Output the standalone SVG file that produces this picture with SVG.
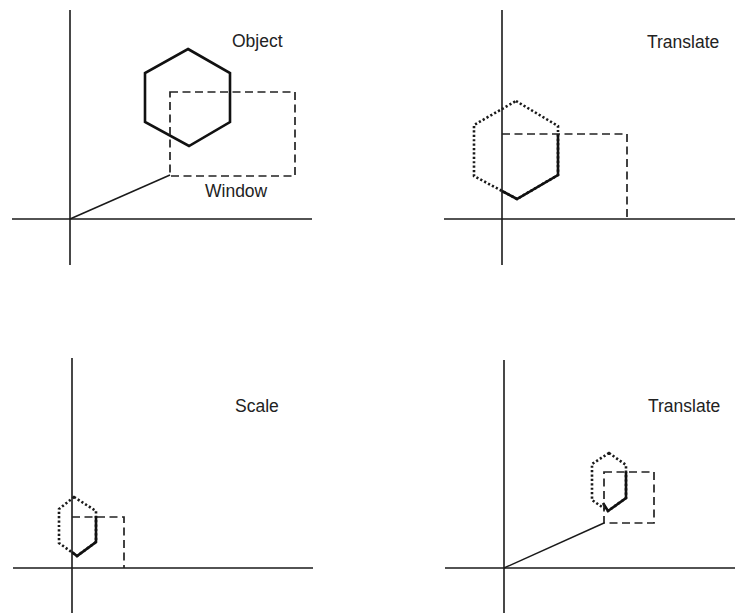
<svg xmlns="http://www.w3.org/2000/svg" width="735" height="613" viewBox="0 0 735 613">
<style>
.axis{stroke:#1a1a1a;stroke-width:1.6;fill:none}
.obj{stroke:#111;stroke-width:2.6;fill:none;stroke-linejoin:miter}
.win{stroke:#222;stroke-width:1.7;fill:none;stroke-dasharray:8 4.5}
.dot{stroke:#1a1a1a;stroke-width:2.6;fill:none;stroke-dasharray:2.2 2.2}
.vec{stroke:#1a1a1a;stroke-width:1.5;fill:none}
.lbl{font-family:"Liberation Sans",Arial,sans-serif;font-size:17.5px;fill:#222}
</style>
<rect width="735" height="613" fill="#fff"/>

<g id="panel-object">
  <g id="axes-1">
    <line class="axis" x1="70" y1="10" x2="70" y2="265"/>
    <line class="axis" x1="12" y1="219" x2="312" y2="219"/>
  </g>
  <g id="object-1">
    <polygon class="obj" points="188,49 230,73 230,122 189,146 145,122 145,73"/>
    <text class="lbl" x="232" y="47">Object</text>
  </g>
  <g id="window-1">
    <rect class="win" x="170" y="92" width="125" height="84"/>
    <text class="lbl" x="205" y="197">Window</text>
  </g>
</g>

<g id="panel-translate-1">
  <g id="axes-2">
    <line class="axis" x1="502" y1="10" x2="502" y2="265"/>
    <line class="axis" x1="444" y1="219" x2="735" y2="219"/>
  </g>
  <g id="object-2">
    <polygon class="dot" points="516,101 558,126 558,175 517,199 474,176 474,125"/>
    <polyline class="obj" points="558,134 558,175 517,199 502,191"/>
  </g>
  <g id="window-2">
    <polyline class="win" points="502,134 627,134 627,219"/>
  </g>
  <text class="lbl" x="647" y="48">Translate</text>
</g>

<g id="panel-scale">
  <g id="axes-3">
    <line class="axis" x1="72" y1="358" x2="72" y2="613"/>
    <line class="axis" x1="13" y1="568" x2="313" y2="568"/>
  </g>
  <g id="object-3">
    <polygon class="dot" points="74,497 96,511 96,542 77,556 59,543 59,509"/>
    <polyline class="obj" points="96,516 96,542 77,556 72,552"/>
  </g>
  <g id="window-3">
    <polyline class="win" points="72,517 124,517 124,568"/>
  </g>
  <text class="lbl" x="235" y="412">Scale</text>
</g>

<g id="panel-translate-2">
  <g id="axes-4">
    <line class="axis" x1="504" y1="360" x2="504" y2="613"/>
    <line class="axis" x1="445" y1="568" x2="735" y2="568"/>
  </g>
  <g id="object-4">
    <polygon class="dot" points="609,453 626,465 626,498 608,511 592,500 592,464"/>
    <polyline class="obj" points="626,472 626,498 608,511 603,503"/>
  </g>
  <g id="window-4">
    <rect class="win" x="604" y="472" width="50" height="51"/>
  </g>
  <text class="lbl" x="648" y="412">Translate</text>
</g>

<g id="connectors">
  <line class="vec" x1="70" y1="219" x2="170" y2="175"/>
  <line class="vec" x1="504" y1="568" x2="604" y2="523"/>
</g>
</svg>
